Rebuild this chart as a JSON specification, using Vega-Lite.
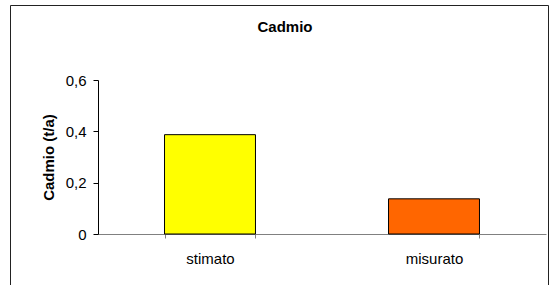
{
  "$schema": "https://vega.github.io/schema/vega-lite/v6.json",
  "autosize": "none",
  "padding": {"left": 10, "top": 5, "right": 3, "bottom": 0},
  "width": 538,
  "height": 290,
  "background": "white",
  "config": {
    "font": "Liberation Sans",
    "view": {"stroke": "#222222", "strokeWidth": 1}
  },
  "title": {
    "text": "Cadmio",
    "fontSize": 15,
    "fontWeight": "bold",
    "color": "black",
    "offset": -30,
    "anchor": "middle",
    "dx": 6
  },
  "data": {
    "values": [
      {"categoria": "stimato", "valore": 0.387},
      {"categoria": "misurato", "valore": 0.137}
    ]
  },
  "mark": {"type": "bar", "stroke": "black", "strokeWidth": 1},
  "encoding": {
    "x": {
      "field": "categoria",
      "type": "nominal",
      "sort": ["stimato", "misurato"],
      "scale": {"range": [88, 536], "paddingInner": 0.594, "paddingOuter": 0.297},
      "axis": {
        "title": null,
        "orient": "bottom",
        "offset": -61,
        "labelAngle": 0,
        "tickBand": "extent",
        "domainColor": "#808080",
        "tickColor": "#808080",
        "tickSize": 4,
        "labelPadding": 13,
        "labelFontSize": 15,
        "labelColor": "black"
      }
    },
    "y": {
      "field": "valore",
      "type": "quantitative",
      "scale": {"domain": [0, 0.6], "range": [229, 75], "nice": false},
      "axis": {
        "title": "Cadmio (t/a)",
        "titleFontSize": 15,
        "titleFontWeight": "bold",
        "titleColor": "black",
        "titlePadding": 9,
        "offset": -88,
        "values": [0, 0.2, 0.4, 0.6],
        "labelExpr": "replace(format(datum.value, '.1~f'), '.', ',')",
        "grid": false,
        "domainColor": "black",
        "tickColor": "black",
        "tickSize": 5,
        "labelPadding": 7,
        "labelFontSize": 15,
        "labelColor": "black"
      }
    },
    "color": {
      "field": "categoria",
      "type": "nominal",
      "scale": {"domain": ["stimato", "misurato"], "range": ["#FFFF00", "#FF6600"]},
      "legend": null
    }
  }
}
